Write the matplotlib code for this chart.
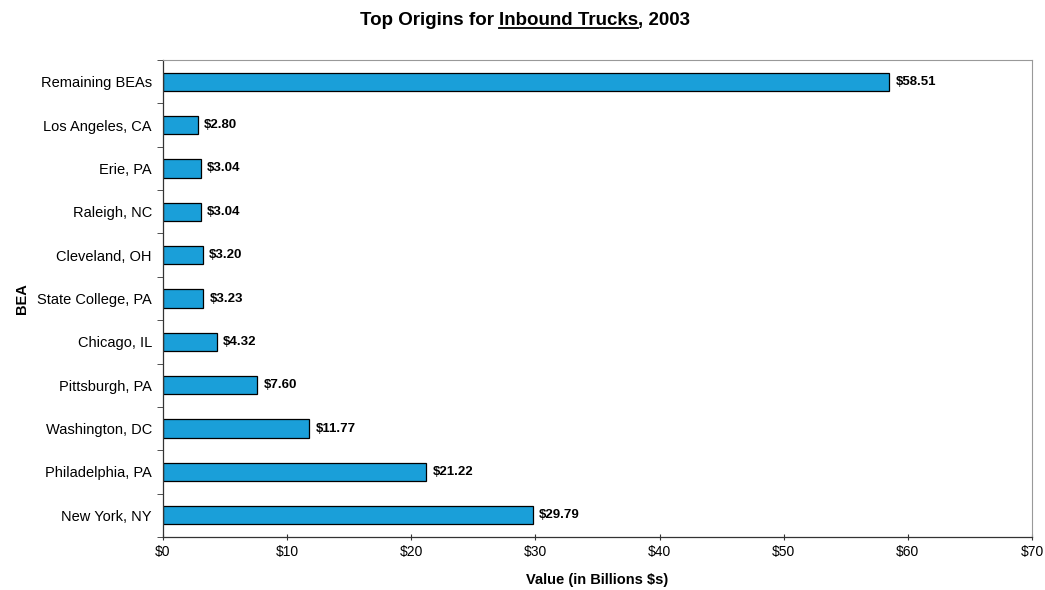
import numpy as np
import matplotlib.pyplot as plt

plt.rcParams['font.family'] = ['Liberation Sans', 'DejaVu Sans']

# Top origins, bottom to top as drawn
origins = ["New York, NY", "Philadelphia, PA", "Washington, DC", "Pittsburgh, PA",
           "Chicago, IL", "State College, PA", "Cleveland, OH", "Raleigh, NC",
           "Erie, PA", "Los Angeles, CA", "Remaining BEAs"]
values = [29.79, 21.22, 11.77, 7.60, 4.32, 3.23, 3.20, 3.04, 3.04, 2.80, 58.51]
xticks = [0, 10, 20, 30, 40, 50, 60, 70]

fig = plt.figure(figsize=(10.45, 5.9), dpi=100)
ax = fig.add_axes([0.156, 0.0898, 0.8316, 0.8085])

y = np.arange(len(origins))
ax.barh(y, values, height=0.42, color="#1a9fd9", edgecolor="black", linewidth=0.9)

for yi, v in zip(y, values):
    ax.text(v + 0.5, yi, f"${v:.2f}", va="center", ha="left",
            fontsize=9.5, fontweight="bold")

ax.set_xlim(0, 70)
ax.set_ylim(-0.5, len(origins) - 0.5)
ax.set_xticks(xticks)
ax.set_xticklabels([f"${t}" for t in xticks], fontsize=10)
ax.set_yticks(y)
ax.set_yticklabels(origins, fontsize=10.5)
ax.set_yticks(np.arange(-0.5, len(origins), 1), minor=True)
ax.tick_params(axis="y", which="major", length=0, pad=8)
ax.tick_params(axis="y", which="minor", length=4, direction="out", color="#333333")
ax.tick_params(axis="x", length=4, direction="inout", color="#333333", pad=4)

for side in ["top", "right"]:
    ax.spines[side].set_color("#999999")
    ax.spines[side].set_linewidth(0.8)
for side in ["left", "bottom"]:
    ax.spines[side].set_color("#333333")
    ax.spines[side].set_linewidth(0.9)

ax.set_xlabel("Value (in Billions $s)", fontsize=10.5, fontweight="bold")
ax.set_ylabel("BEA", fontsize=10.5, fontweight="bold", labelpad=6)
ax.xaxis.set_label_coords(0.5, -0.076)

# Title in three pieces so the middle part can be underlined
parts = ["Top Origins for ", "Inbound Trucks", ", 2003"]
base_y = 0.958
fig.canvas.draw()
renderer = fig.canvas.get_renderer()
texts = []
widths = []
for p in parts:
    t = fig.text(0, base_y, p, fontsize=13.5, fontweight="bold", va="baseline")
    bb = t.get_window_extent(renderer)
    texts.append(t)
    widths.append(bb.width)
W = fig.get_figwidth() * fig.dpi
x0 = (525 - sum(widths) / 2)
for t, w in zip(texts, widths):
    t.set_x(x0 / W)
    if t.get_text() == "Inbound Trucks":
        uy = base_y - 3.5 / (fig.get_figheight() * fig.dpi)
        fig.add_artist(plt.Line2D([x0 / W, (x0 + w) / W], [uy, uy],
                                  transform=fig.transFigure, color="black", linewidth=1.3))
    x0 += w

fig.savefig("out.png", dpi=100)
